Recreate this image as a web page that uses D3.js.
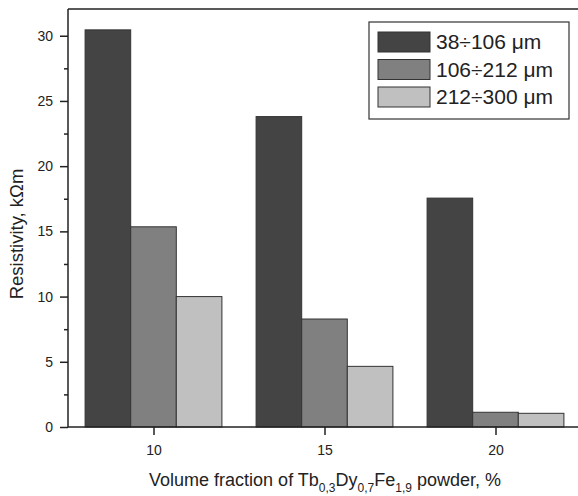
<!DOCTYPE html>
<html><head><meta charset="utf-8">
<script src="https://cdn.jsdelivr.net/npm/d3@7"></script>
<style>body{margin:0;background:#fff}svg{display:block;font-family:"Liberation Sans",Arial,sans-serif}</style>
</head><body>
<svg id="c" width="578" height="496"></svg>
<script>
const categories = [10, 15, 20];
const seriesNames = ["38÷106 μm", "106÷212 μm", "212÷300 μm"];
const series1 = [30.45, 23.8, 17.55];
const series2 = [15.35, 8.28, 1.13];
const series3 = [10.0, 4.65, 1.05];
const yTicks = [0, 5, 10, 15, 20, 25, 30];
const yMinorTicks = [2.5, 7.5, 12.5, 17.5, 22.5, 27.5];
const colors = ["#444444", "#808080", "#c0c0c0"];

const svg = d3.select("#c");
const L = 68, T = 9, B = 427;
const x = d3.scaleLinear().domain([7.5, 22.5]).range([L, L + 513]);
const y = d3.scaleLinear().domain([0, 32.05]).range([B, T]);
const barW = x(15) - x(10);
const bw = barW * 0.2667;

const allSeries = [series1, series2, series3];
allSeries.forEach((s, i) => {
  svg.append("g").selectAll("rect").data(s).join("rect")
    .attr("x", (d, j) => x(categories[j]) - 1.5 * bw + i * bw)
    .attr("y", d => y(d))
    .attr("width", bw)
    .attr("height", d => y(0) - y(d))
    .attr("fill", colors[i])
    .attr("stroke", "#333")
    .attr("stroke-width", 1);
});

// frame
svg.append("line").attr("x1", L).attr("x2", 578).attr("y1", T).attr("y2", T).attr("stroke", "#222").attr("stroke-width", 1.5);

const yAxis = d3.axisLeft(y).tickValues(yTicks).tickSize(8).tickPadding(7).tickFormat(d3.format("d"));
const gy = svg.append("g").attr("transform", `translate(${L},0)`).call(yAxis);
gy.select(".domain").attr("stroke", "#222").attr("stroke-width", 1.5).attr("d", `M0,${B}V${T}`);
gy.selectAll(".tick line").attr("stroke", "#222").attr("stroke-width", 1.5);
gy.selectAll(".tick text").attr("font-size", 14).attr("fill", "#222").attr("font-family", "Liberation Sans, Arial, sans-serif");
const gym = svg.append("g").attr("transform", `translate(${L},0)`).call(d3.axisLeft(y).tickValues(yMinorTicks).tickSize(4).tickFormat(""));
gym.select(".domain").remove();
gym.selectAll(".tick line").attr("stroke", "#222").attr("stroke-width", 1.5);

const xAxis = d3.axisBottom(x).tickValues(categories).tickSize(8).tickPadding(10).tickFormat(d3.format("d"));
const gx = svg.append("g").attr("transform", `translate(0,${B})`).call(xAxis);
gx.select(".domain").attr("stroke", "#222").attr("stroke-width", 1.5).attr("d", `M${L},0H578`);
gx.selectAll(".tick line").attr("stroke", "#222").attr("stroke-width", 1.5);
gx.selectAll(".tick text").attr("font-size", 14).attr("fill", "#222").attr("font-family", "Liberation Sans, Arial, sans-serif");

// axis titles
svg.append("text").attr("transform", `translate(23,234) rotate(-90)`)
  .attr("text-anchor", "middle").attr("font-size", 18.5).attr("fill", "#222")
  .text("Resistivity, kΩm");

const xt = svg.append("text").attr("x", 325).attr("y", 486).attr("text-anchor", "middle")
  .attr("font-size", 18).attr("fill", "#222");
xt.append("tspan").text("Volume fraction of Tb");
xt.append("tspan").attr("font-size", 12).attr("dy", 6).text("0,3");
xt.append("tspan").attr("dy", -6).text("Dy");
xt.append("tspan").attr("font-size", 12).attr("dy", 6).text("0,7");
xt.append("tspan").attr("dy", -6).text("Fe");
xt.append("tspan").attr("font-size", 12).attr("dy", 6).text("1,9");
xt.append("tspan").attr("dy", -6).text(" powder, %");

// legend
const lg = svg.append("g");
lg.append("rect").attr("x", 369).attr("y", 22).attr("width", 200).attr("height", 97)
  .attr("fill", "#fff").attr("stroke", "#333").attr("stroke-width", 1.2);
seriesNames.forEach((n, i) => {
  const yy = 32 + i * 27.5;
  lg.append("rect").attr("x", 378).attr("y", yy).attr("width", 52).attr("height", 20)
    .attr("fill", colors[i]).attr("stroke", "#333").attr("stroke-width", 1);
  lg.append("text").attr("x", 436).attr("y", yy + 17).attr("font-size", 21).attr("fill", "#222").text(n);
});
</script>
</body></html>
